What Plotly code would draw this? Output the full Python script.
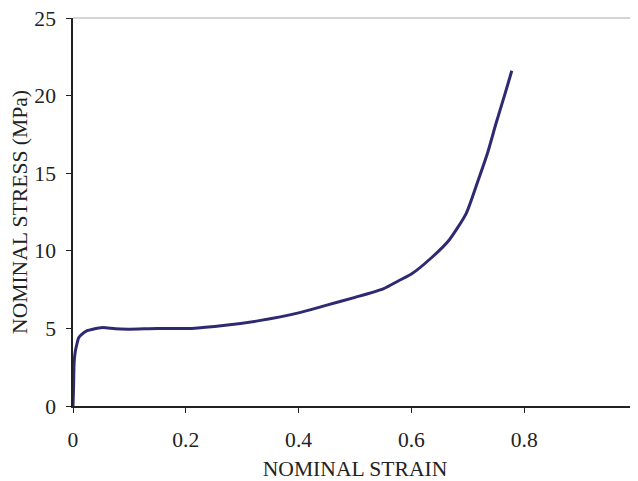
import plotly.graph_objects as go

strain = [0.0, 0.001, 0.002, 0.004, 0.007, 0.01, 0.015, 0.025, 0.035, 0.053, 0.075, 0.1, 0.15, 0.21,
          0.27, 0.33, 0.4, 0.45, 0.5, 0.55, 0.579, 0.6, 0.637, 0.667, 0.697, 0.717, 0.735, 0.75, 0.765, 0.778]
stress = [0.0, 1.2, 2.8, 3.5, 4.0, 4.4, 4.6, 4.85, 4.95, 5.05, 4.97, 4.95, 5.0, 5.0,
          5.2, 5.5, 6.0, 6.5, 7.0, 7.55, 8.1, 8.5, 9.6, 10.7, 12.4, 14.4, 16.3, 18.2, 20.0, 21.6]

x_ticks = [0, 0.2, 0.4, 0.6, 0.8, 1]
x_labels = ["0", "0.2", "0.4", "0.6", "0.8", "1"]
y_ticks = [0, 5, 10, 15, 20, 25]

fig = go.Figure()
fig.add_trace(go.Scatter(x=strain, y=stress, mode="lines",
                         line=dict(color="#2E2A72", width=3, shape="spline", smoothing=0.6),
                         showlegend=False, hoverinfo="skip", cliponaxis=False))

font = dict(family="Liberation Serif", size=21.6, color="#222222")
fig.update_layout(
    width=630, height=473,
    margin=dict(l=65, r=1, t=10, b=75),
    paper_bgcolor="white", plot_bgcolor="white",
    font=font,
    xaxis=dict(range=[0, 1], tickvals=x_ticks, ticktext=x_labels, showgrid=False,
               zeroline=False, showline=True, linecolor="#222222", linewidth=1.5,
               ticks="outside", ticklen=5, tickcolor="#222222", automargin=False,
               ticklabelstandoff=8, ticklabeloverflow="allow",
               title=dict(text="NOMINAL STRAIN", font=font, standoff=15)),
    yaxis=dict(range=[0, 25], tickvals=y_ticks, showgrid=False, zeroline=False,
               showline=True, linecolor="#222222", linewidth=1.5,
               ticks="outside", ticklen=5, tickcolor="#222222", automargin=False,
               ticklabelstandoff=6, ticklabeloverflow="allow",
               title=dict(text="NOMINAL STRESS (MPa)", font=font, standoff=13)),
    shapes=[
        dict(type="line", xref="paper", yref="paper", x0=0, x1=1, y0=1, y1=1,
             line=dict(color="#aaaaaa", width=1)),
        dict(type="line", xref="paper", yref="paper", x0=1, x1=1, y0=0, y1=1,
             line=dict(color="#aaaaaa", width=2)),
    ],
)
fig.write_html("out.html")
